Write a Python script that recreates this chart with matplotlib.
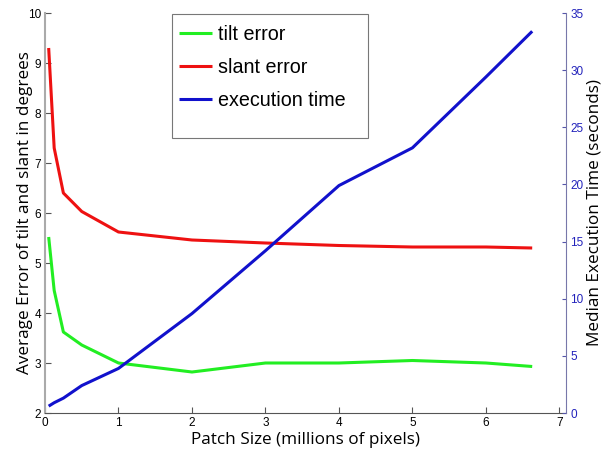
import matplotlib
matplotlib.use("Agg")
import matplotlib.pyplot as plt
from matplotlib.patches import Rectangle

patch_size = [0.05, 0.125, 0.25, 0.5, 1, 2, 3, 4, 5, 6, 6.63]
tilt_error = [5.52, 4.45, 3.62, 3.36, 3.0, 2.82, 3.0, 3.0, 3.05, 3.0, 2.93]
slant_error = [9.3, 7.3, 6.4, 6.03, 5.62, 5.46, 5.4, 5.35, 5.32, 5.32, 5.3]
exec_time = [0.6, 0.9, 1.3, 2.4, 3.9, 8.7, 14.2, 19.9, 23.2, 29.4, 33.4]

x_ticks = [0, 1, 2, 3, 4, 5, 6, 7]
left_ticks = [2, 3, 4, 5, 6, 7, 8, 9, 10]
right_ticks = [0, 5, 10, 15, 20, 25, 30, 35]

tick_font = "Liberation Sans"
label_font = "Open Sans"

fig = plt.figure(figsize=(6.06, 4.51), dpi=100)
ax = fig.add_axes([45/606, 38/451, 521/606, 400/451])
ax2 = ax.twinx()

lw = 2.2
l1, = ax.plot(patch_size, tilt_error, color="#22ee22", lw=lw, label="tilt error", solid_capstyle="butt")
l2, = ax.plot(patch_size, slant_error, color="#ee1111", lw=lw, label="slant error", solid_capstyle="butt")
l3, = ax2.plot(patch_size, exec_time, color="#1111cc", lw=lw, label="execution time", solid_capstyle="butt")

ax.set_xlim(0, 7.09)
ax.set_ylim(2, 10)
ax2.set_ylim(0, 35)
ax.set_xticks(x_ticks)
ax.set_yticks(left_ticks)
ax2.set_yticks(right_ticks)

for a in (ax, ax2):
    a.spines["top"].set_visible(False)
    a.patch.set_visible(False)
ax.spines["right"].set_visible(False)
ax2.spines["left"].set_visible(False)
ax2.spines["bottom"].set_visible(False)
ax.spines["left"].set_color("#aaaaaa")
ax.spines["left"].set_linewidth(1.5)
ax.spines["bottom"].set_color("#555555")
ax2.spines["right"].set_color("#7777aa")

ax.tick_params(axis="both", direction="in", length=4, width=0.8, color="#555555",
               labelsize=8.5, pad=3)
ax2.tick_params(axis="y", direction="in", length=3, width=0.8, color="#5555aa",
                labelsize=8.5, labelcolor="#2222bb", pad=3)
for t in ax.get_xticklabels() + ax.get_yticklabels() + ax2.get_yticklabels():
    t.set_fontfamily(tick_font)

ax.set_xlabel("Patch Size (millions of pixels)", fontsize=12.3, family=label_font, labelpad=2)
ax.set_ylabel("Average Error of tilt and slant in degrees", fontsize=12.3, family=label_font, labelpad=-4)
ax2.set_ylabel("Median Execution Time (seconds)", fontsize=12.3, family=label_font, labelpad=2)

leg = ax.legend(handles=[l1, l2, l3], loc="upper left", bbox_to_anchor=(168/606, 1-14/451),
                bbox_transform=fig.transFigure, frameon=False,
                prop={"family": tick_font, "size": 14.2}, handlelength=1.7,
                labelspacing=0.72, borderpad=0.55, handletextpad=0.3, borderaxespad=0)
fig.patches.append(Rectangle((172/606, 1-138/451), 196/606, 124/451, transform=fig.transFigure,
                             fill=False, edgecolor="#777777", linewidth=0.8, zorder=5))

fig.savefig("out.png", dpi=100)
